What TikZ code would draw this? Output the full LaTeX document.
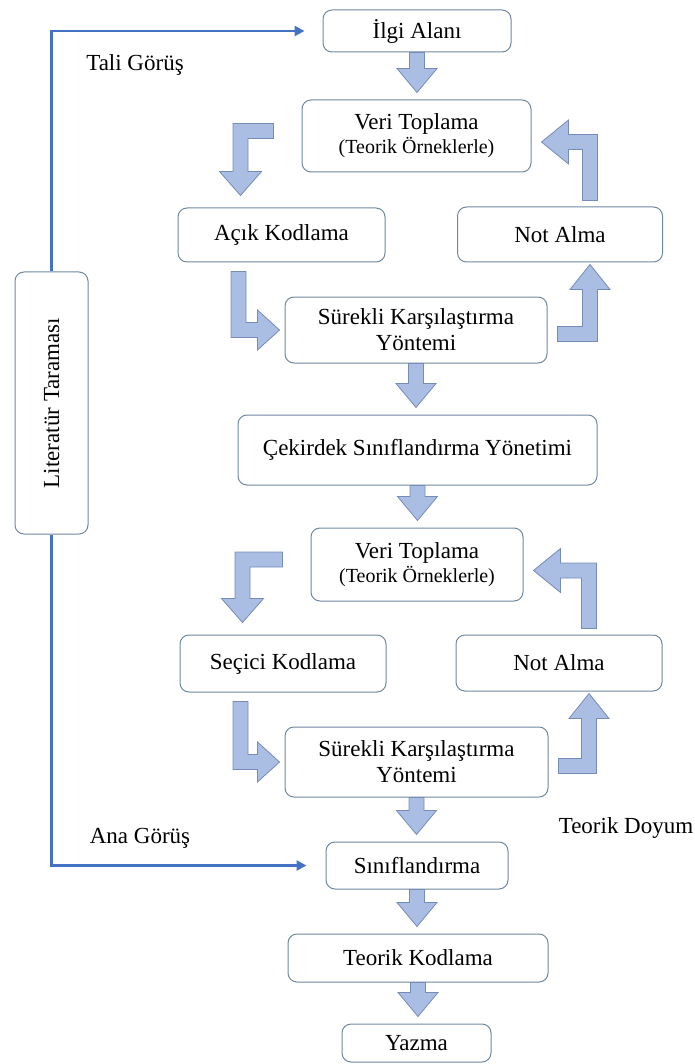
\documentclass[tikz,border=0pt]{standalone}
\usepackage{fontspec}
\setmainfont{Liberation Serif}
\usetikzlibrary{arrows.meta,calc}

\definecolor{edge}{RGB}{112,136,160}
\definecolor{fatfill}{RGB}{170,189,226}
\definecolor{fatline}{RGB}{118,139,184}
\definecolor{linkblue}{RGB}{68,114,196}

% block arrows, built from the anchors of two named nodes
\newcommand{\dnarrow}[2]{%
  \draw[fat] let \p1=(#1.south), \p2=(#2.north) in
    (\x1-7.5pt,\y1) -- (\x1-7.5pt,\y2+31pt) -- (\x1-20pt,\y2+31pt) -- (\x1,\y2+7pt)
    -- (\x1+20pt,\y2+31pt) -- (\x1+7.5pt,\y2+31pt) -- (\x1+7.5pt,\y1) -- cycle;}
\newcommand{\ldown}[2]{%
  \draw[fat] let \p1=(#1.west), \p2=(#2.north west) in
    (\x1-28pt,\y1+12.5pt) -- (\x2+55.5pt,\y1+12.5pt) -- (\x2+55.5pt,\y2+36pt)
    -- (\x2+42pt,\y2+36pt) -- (\x2+63pt,\y2+12pt) -- (\x2+84pt,\y2+36pt)
    -- (\x2+70.5pt,\y2+36pt) -- (\x2+70.5pt,\y1-2.5pt) -- (\x1-28pt,\y1-2.5pt) -- cycle;}
\newcommand{\rdown}[2]{%
  \draw[fat] let \p1=(#1.south west), \p2=(#2.west) in
    (\x1+53.5pt,\y1-9pt) -- (\x1+53.5pt,\y2-7.5pt) -- (\x2-27pt,\y2-7.5pt)
    -- (\x2-27pt,\y2-20pt) -- (\x2-5pt,\y2) -- (\x2-27pt,\y2+20pt)
    -- (\x2-27pt,\y2+7.5pt) -- (\x1+68.5pt,\y2+7.5pt) -- (\x1+68.5pt,\y1-9pt) -- cycle;}
\newcommand{\rup}[2]{%
  \draw[fat] let \p1=(#1.east), \p2=(#2.south) in
    (\x1+10pt,\y1+3.5pt) -- (\x2+22.5pt,\y1+3.5pt) -- (\x2+22.5pt,\y2-27pt)
    -- (\x2+10pt,\y2-27pt) -- (\x2+30pt,\y2-2pt) -- (\x2+50pt,\y2-27pt)
    -- (\x2+37.5pt,\y2-27pt) -- (\x2+37.5pt,\y1-11.5pt) -- (\x1+10pt,\y1-11.5pt) -- cycle;}
\newcommand{\uleft}[2]{%
  \draw[fat] let \p1=(#1.north), \p2=(#2.east) in
    (\x1+37.5pt,\y1+6pt) -- (\x1+37.5pt,\y2+1.5pt) -- (\x2+37pt,\y2+1.5pt)
    -- (\x2+37pt,\y2+16pt) -- (\x2+10pt,\y2-6pt) -- (\x2+37pt,\y2-28pt)
    -- (\x2+37pt,\y2-13.5pt) -- (\x1+22.5pt,\y2-13.5pt) -- (\x1+22.5pt,\y1+6pt) -- cycle;}

\begin{document}
\begin{tikzpicture}[
  x=1pt,y=-1pt,
  font=\fontsize{23}{26}\selectfont,
  box/.style={draw=edge,line width=1pt,rounded corners=9pt,fill=white,align=center,inner sep=2pt},
  lbl/.style={inner sep=0pt},
  fat/.style={fill=fatfill,draw=fatline,line width=0.8pt,line join=miter},
  link/.style={draw=linkblue,line width=2.6pt,-{Triangle[length=10pt,width=10pt]}}
]
\useasboundingbox (0,0) rectangle (695,1064);
\node[box,minimum width=188pt,minimum height=42pt] (ilgi) at (417,31) {İlgi Alanı};
\node[box,minimum width=229pt,minimum height=72pt] (veri1) at (416.5,136)
  {Veri Toplama\\[-2pt]{\fontsize{20}{22}\selectfont (Teorik Örneklerle)}};
\node[box,minimum width=207pt,minimum height=54pt] (acik) at (281.5,235) {Açık Kodlama};
\node[box,minimum width=205pt,minimum height=55pt] (not1) at (560,234.5) {Not Alma};
\node[box,minimum width=262pt,minimum height=66pt] (surekli1) at (416,330)
  {Sürekli Karşılaştırma\\Yöntemi};
\node[box,minimum width=359pt,minimum height=70pt] (cekirdek) at (417.5,450)
  {Çekirdek Sınıflandırma Yönetimi};
\node[box,minimum width=212pt,minimum height=73pt] (veri2) at (417,564.5)
  {Veri Toplama\\[-2pt]{\fontsize{20}{22}\selectfont (Teorik Örneklerle)}};
\node[box,minimum width=206pt,minimum height=57pt] (secici) at (283,663.5) {Seçici Kodlama};
\node[box,minimum width=206pt,minimum height=56pt] (not2) at (559,663) {Not Alma};
\node[box,minimum width=263pt,minimum height=70pt] (surekli2) at (416.5,762)
  {Sürekli Karşılaştırma\\Yöntemi};
\node[box,minimum width=182pt,minimum height=47pt] (sinif) at (417,865.5) {Sınıflandırma};
\node[box,minimum width=260pt,minimum height=48pt] (teorik) at (418,958) {Teorik Kodlama};
\node[box,minimum width=149pt,minimum height=38pt] (yazma) at (416.5,1043) {Yazma};
\node[box,rotate=90,minimum width=262pt,minimum height=73pt] (lit) at (51.5,403) {Literatür Taraması};

\node[lbl] (tali) at (135,65) {Tali Görüş};
\node[lbl] (ana) at (140,838) {Ana Görüş};
\node[lbl] (doyum) at (626,828) {Teorik Doyum};

\draw[link] (lit.east) |- ([xshift=-18pt]ilgi.west);
\draw[link] (lit.west) |- ([xshift=-19pt]sinif.west);

\dnarrow{ilgi}{veri1}
\ldown{veri1}{acik}
\rdown{acik}{surekli1}
\rup{surekli1}{not1}
\uleft{not1}{veri1}
\dnarrow{surekli1}{cekirdek}
\dnarrow{cekirdek}{veri2}
\ldown{veri2}{secici}
\rdown{secici}{surekli2}
\rup{surekli2}{not2}
\uleft{not2}{veri2}
\dnarrow{surekli2}{sinif}
\dnarrow{sinif}{teorik}
\dnarrow{teorik}{yazma}
\end{tikzpicture}
\end{document}
